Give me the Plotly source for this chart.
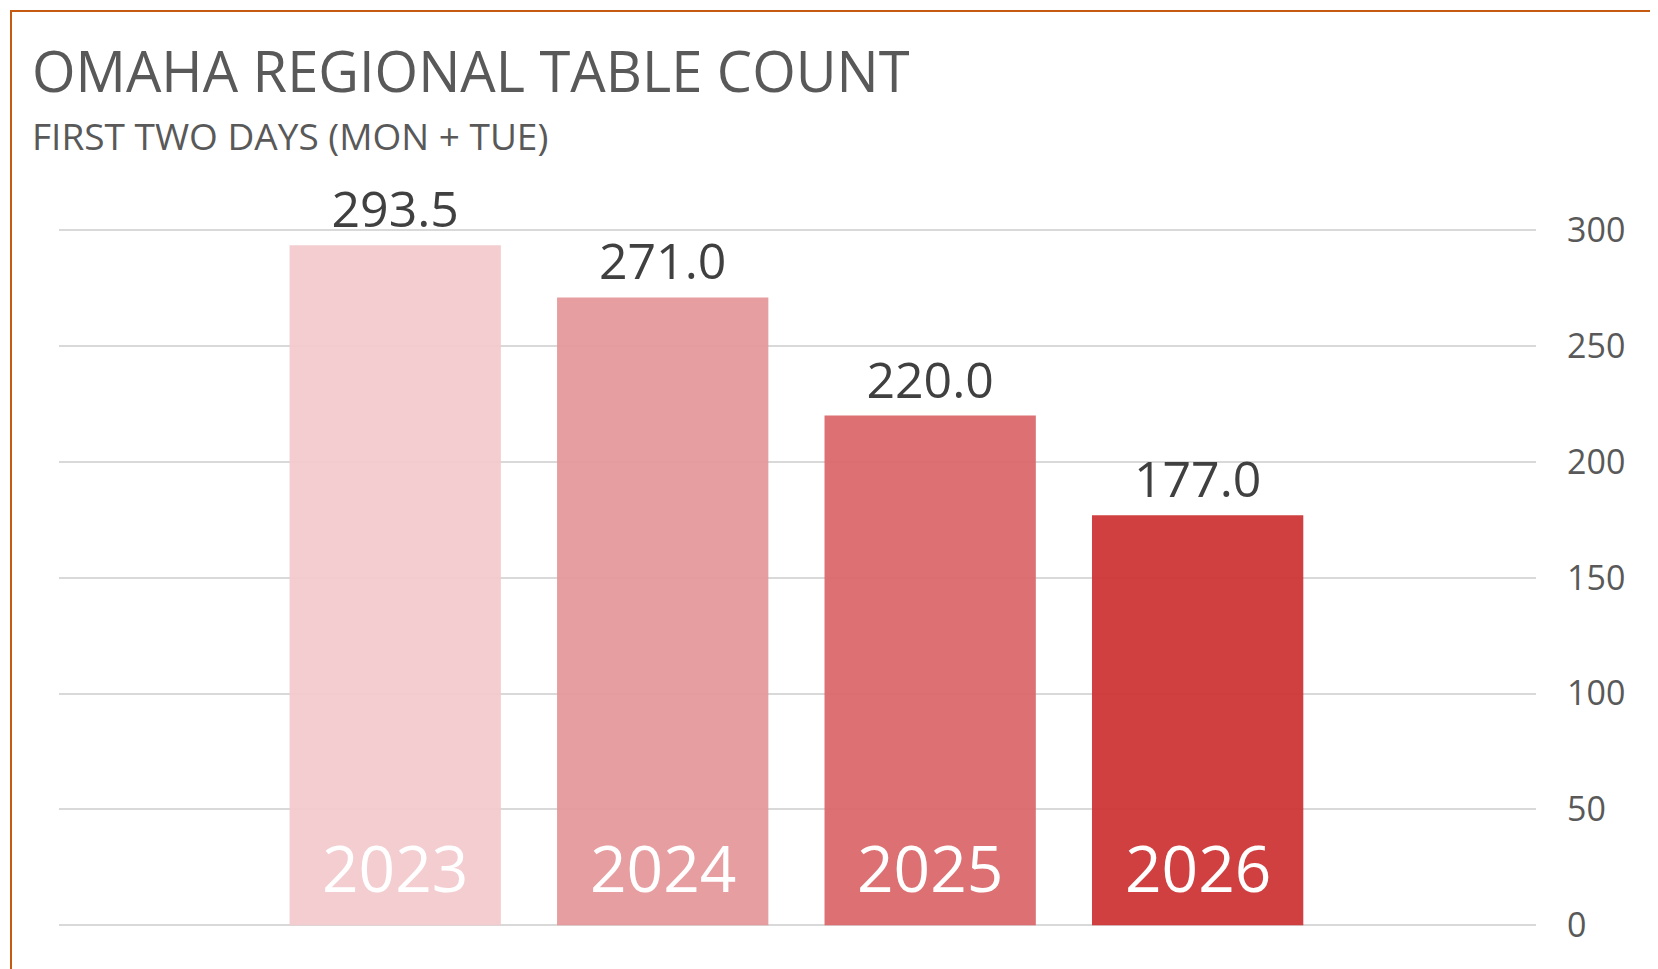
import plotly.graph_objects as go

years = ["2023", "2024", "2025", "2026"]
tables = [293.5, 271.0, 220.0, 177.0]
colors = ["#F2C9CB", "#E59799", "#D96567", "#CC3133"]
y_ticks = [0, 50, 100, 150, 200, 250, 300]

W, H = 1658, 969
ml, mr, mt, mb = 51, 130, 220, 50
pw, ph = W - ml - mr, H - mt - mb

xs = list(range(len(years)))
fig = go.Figure(go.Bar(
    x=xs, y=tables, width=0.79, marker=dict(color=colors, opacity=0.93, line=dict(width=0)),
    text=[f"{v:.1f}" for v in tables], textposition="outside",
    textfont=dict(size=50, color="#404040"), cliponaxis=False,
))

for x, yr in zip(xs, years):
    fig.add_annotation(x=x, y=0, text=yr, showarrow=False, yanchor="bottom", yshift=12,
                       font=dict(size=64, color="white"))

fig.add_annotation(xref="paper", yref="paper", x=-29/pw, y=1 + (mt - 62)/ph, xanchor="left",
                   yanchor="middle", text="OMAHA REGIONAL TABLE COUNT", showarrow=False,
                   font=dict(size=56, color="#595959"))
fig.add_annotation(xref="paper", yref="paper", x=-29/pw, y=1 + (mt - 128)/ph, xanchor="left",
                   yanchor="middle", text="FIRST TWO DAYS (MON + TUE)", showarrow=False,
                   font=dict(size=37, color="#595959"))

fig.add_shape(type="rect", xref="paper", yref="paper",
              x0=-(ml - 3)/pw, x1=1 + (mr - 3)/pw, y0=-(mb - 3)/ph, y1=1 + (mt - 3)/ph,
              line=dict(color="#C55A11", width=2))

fig.update_layout(
    width=W, height=H, margin=dict(l=ml, r=mr, t=mt, b=mb),
    paper_bgcolor="white", plot_bgcolor="white",
    font=dict(family="Open Sans, Liberation Sans, sans-serif"),
    showlegend=False,
    xaxis=dict(range=[-1.257, 4.265], showticklabels=False, showgrid=False, zeroline=False),
    yaxis=dict(range=[-0.8, 301], side="right", tickvals=y_ticks, showgrid=True,
               gridcolor="#D9D9D9", gridwidth=2, zeroline=False,
               tickfont=dict(size=34, color="#595959"), ticklen=0, ticks="",
               ticklabelstandoff=30),
)

fig.write_html("out.html")
